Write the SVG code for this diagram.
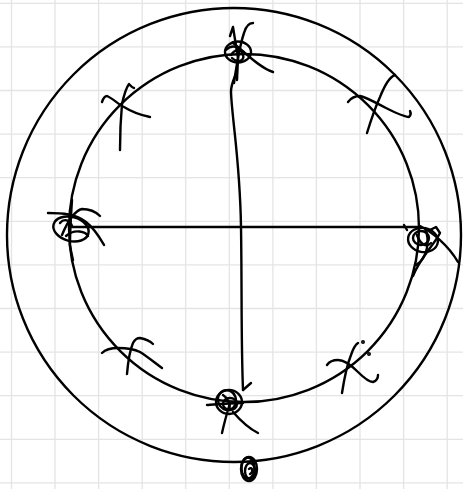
<svg xmlns="http://www.w3.org/2000/svg" width="463" height="489" viewBox="0 0 463 489">
<style>
.grid line{stroke:#e4e4e4;stroke-width:1.3}
.ink{fill:none;stroke:#000;stroke-width:2.4;stroke-linecap:round;stroke-linejoin:round}
</style>
<rect width="463" height="489" fill="#fff"/>
<g class="grid">
<line x1="11.5" y1="0" x2="11.5" y2="489"/><line x1="55" y1="0" x2="55" y2="489"/><line x1="98.6" y1="0" x2="98.6" y2="489"/><line x1="142.2" y1="0" x2="142.2" y2="489"/><line x1="185.7" y1="0" x2="185.7" y2="489"/><line x1="229.3" y1="0" x2="229.3" y2="489"/><line x1="272.9" y1="0" x2="272.9" y2="489"/><line x1="316.4" y1="0" x2="316.4" y2="489"/><line x1="360" y1="0" x2="360" y2="489"/><line x1="403.6" y1="0" x2="403.6" y2="489"/><line x1="447.2" y1="0" x2="447.2" y2="489"/>
<line x1="0" y1="3.3" x2="463" y2="3.3"/><line x1="0" y1="46.9" x2="463" y2="46.9"/><line x1="0" y1="90.5" x2="463" y2="90.5"/><line x1="0" y1="134.1" x2="463" y2="134.1"/><line x1="0" y1="177.7" x2="463" y2="177.7"/><line x1="0" y1="221.3" x2="463" y2="221.3"/><line x1="0" y1="264.9" x2="463" y2="264.9"/><line x1="0" y1="308.5" x2="463" y2="308.5"/><line x1="0" y1="352.1" x2="463" y2="352.1"/><line x1="0" y1="395.7" x2="463" y2="395.7"/><line x1="0" y1="439.3" x2="463" y2="439.3"/><line x1="0" y1="482.9" x2="463" y2="482.9"/>
</g>
<g id="rings" class="ink">
<ellipse id="outer" cx="234" cy="235" rx="227" ry="227"/>
<ellipse id="inner" cx="244" cy="228" rx="175" ry="174"/>
</g>
<g id="connectors" class="ink">
<path d="M72 227 L419 227"/>
<path d="M404 225 L407 230"/>
<path d="M237 70 C236 76 231 82 231 92 C232 120 240 160 241 227 C242 290 241 340 243 390"/>
<path d="M243 390 L251 383"/>
</g>
<g id="mark-top" class="ink">
<ellipse cx="238" cy="52" rx="13" ry="10.5"/>
<path d="M230 36 L233 27 L238 58 L237 80"/>
<path d="M253 23 C249 23 246 26 244 33 C241 42 238 55 234 83"/>
<path d="M233 43 C245 52 258 67 273 72"/>
<path d="M226 50 C232 44 240 46 243 55 C245 60 238 64 232 58"/>
<path d="M231 55 C234 50 240 48 244 52"/>
</g>
<g id="mark-left" class="ink">
<ellipse cx="71" cy="229" rx="18" ry="12" transform="rotate(15 71 229)"/>
<path d="M72 200 C71 215 70 235 70 245 C71 252 72 256 73 260"/>
<path d="M48 213 C62 213 76 214 86 222 C95 229 100 238 104 245"/>
<path d="M62 235 C68 220 76 210 82 209 C90 209 96 212 100 216"/>
<path d="M66 236 C75 228 86 232 88 236"/>
<path d="M60 223 C64 218 70 220 72 226"/>
</g>
<g id="mark-right" class="ink">
<ellipse cx="423" cy="240" rx="15" ry="12" transform="rotate(10 423 240)"/>
<ellipse cx="421" cy="238" rx="8" ry="7"/>
<path d="M420 226 C432 232 448 245 458 262"/>
<path d="M430 230 L436 227 L440 233 C434 245 420 258 413 276"/>
<path d="M425 228 C430 240 428 258 416 265"/>
<path d="M417 235 C420 244 426 248 431 243"/>
</g>
<g id="mark-bottom" class="ink">
<ellipse cx="229" cy="402" rx="13" ry="12"/>
<ellipse cx="227" cy="400" rx="9" ry="10" transform="rotate(-20 227 400)"/>
<ellipse cx="230" cy="404" rx="7" ry="6"/>
<path d="M207 405 C220 404 232 403 243 403"/>
<path d="M233 412 C240 420 248 428 258 433"/>
<path d="M230 403 C227 413 224 424 222 433"/>
<path d="M223 395 C228 398 231 405 229 410"/>
</g>
<g id="mark-bottom-knot" class="ink">
<ellipse cx="249" cy="469" rx="8" ry="12"/>
<ellipse cx="248" cy="468" rx="6.5" ry="10.5"/>
<ellipse cx="250" cy="471" rx="5" ry="8"/>
<path d="M249 469 C252 466 254 472 250 474"/>
</g>
<g id="mark-ul" class="ink">
<path d="M120 150 C120 135 121 115 122 104 C124 95 126 88 129 84 C131 86 132 88 134 88"/>
<path d="M102 102 C103 99 105 96 107 96 C112 98 118 104 124 107 C132 112 140 115 150 117"/>
</g>
<g id="mark-ur" class="ink">
<path d="M367 133 C371 120 375 108 380 97 C384 87 389 77 395 75"/>
<path d="M348 102 C351 98 355 96 360 96 C368 98 376 103 386 108 C396 113 404 117 409 117 C411 115 411 113 410 111"/>
</g>
<g id="mark-ll" class="ink">
<path d="M102 353 C105 350 110 348 118 348 C126 348 134 349 140 352 C148 357 155 363 162 368"/>
<path d="M127 374 C128 362 130 350 133 343 C135 339 137 338 140 338 C145 339 150 341 153 344"/>
</g>
<g id="mark-lr" class="ink">
<path d="M342 393 C344 380 347 365 351 355 C353 349 355 345 358 343"/>
<path d="M327 365 C329 362 333 360 338 360 C345 360 352 366 358 372 C364 378 369 382 373 382 C376 381 378 378 378 375"/>
<circle cx="363" cy="342" r="0.8"/>
<circle cx="369" cy="354" r="0.8"/>
</g>
</svg>
